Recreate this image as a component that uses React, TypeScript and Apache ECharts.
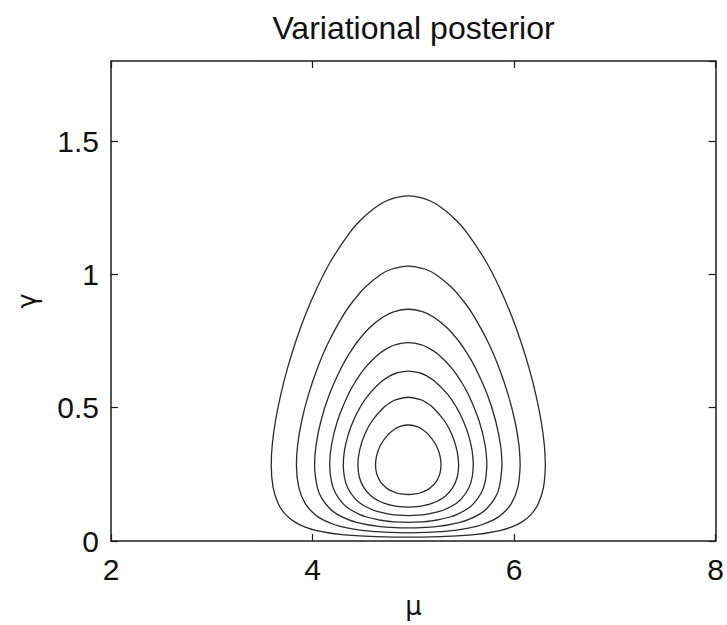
import React, { useEffect, useRef } from "react";
import * as echarts from "echarts";

// Centre of the contours along mu
const MU_CENTER = 4.95;

// Axis ticks
const X_TICKS = [2, 4, 6, 8];
const Y_TICKS = [0, 0.5, 1, 1.5];
const Y_MAX = 1.8;

// Each contour: [gamma, half-width in mu], bottom -> top
const contour1 = [[0.0145, 0], [0.017, 0.367], [0.02, 0.523], [0.025, 0.679], [0.03, 0.782], [0.04, 0.918], [0.05, 1.007], [0.07, 1.121], [0.1, 1.219], [0.14, 1.29], [0.2, 1.341], [0.285, 1.36], [0.36, 1.35], [0.45, 1.318], [0.55, 1.265], [0.65, 1.197], [0.75, 1.115], [0.85, 1.019], [0.95, 0.905], [1.05, 0.768], [1.15, 0.594], [1.2, 0.482], [1.25, 0.33], [1.28, 0.186], [1.294, 0]];
const contour2 = [[0.0308, 0], [0.033, 0.236], [0.035, 0.322], [0.04, 0.459], [0.05, 0.62], [0.06, 0.722], [0.08, 0.85], [0.1, 0.929], [0.14, 1.022], [0.2, 1.086], [0.285, 1.11], [0.36, 1.098], [0.45, 1.058], [0.55, 0.99], [0.65, 0.9], [0.75, 0.786], [0.85, 0.64], [0.9, 0.547], [0.95, 0.433], [1.0, 0.269], [1.02, 0.161], [1.031, 0]];
const contour3 = [[0.0489, 0], [0.052, 0.216], [0.055, 0.298], [0.06, 0.391], [0.07, 0.513], [0.08, 0.595], [0.1, 0.704], [0.12, 0.775], [0.16, 0.858], [0.2, 0.902], [0.285, 0.93], [0.36, 0.915], [0.45, 0.867], [0.55, 0.783], [0.65, 0.665], [0.7, 0.59], [0.75, 0.5], [0.8, 0.384], [0.84, 0.25], [0.86, 0.139], [0.869, 0]];
const contour4 = [[0.0698, 0], [0.072, 0.145], [0.075, 0.222], [0.08, 0.305], [0.09, 0.413], [0.1, 0.486], [0.12, 0.584], [0.14, 0.648], [0.18, 0.723], [0.22, 0.761], [0.285, 0.78], [0.36, 0.762], [0.45, 0.703], [0.55, 0.595], [0.6, 0.521], [0.65, 0.427], [0.7, 0.296], [0.72, 0.219], [0.735, 0.135], [0.744, 0]];
const contour5 = [[0.0952, 0], [0.098, 0.138], [0.1, 0.178], [0.11, 0.3], [0.12, 0.374], [0.14, 0.47], [0.16, 0.531], [0.2, 0.602], [0.24, 0.634], [0.285, 0.645], [0.34, 0.633], [0.4, 0.595], [0.45, 0.546], [0.5, 0.48], [0.55, 0.391], [0.6, 0.26], [0.62, 0.178], [0.63, 0.115], [0.637, 0]];
const contour6 = [[0.127, 0], [0.13, 0.113], [0.135, 0.181], [0.14, 0.226], [0.15, 0.291], [0.17, 0.372], [0.2, 0.441], [0.24, 0.486], [0.285, 0.5], [0.34, 0.483], [0.4, 0.432], [0.45, 0.36], [0.5, 0.247], [0.52, 0.174], [0.53, 0.121], [0.539, 0]];
const contour7 = [[0.1743, 0], [0.177, 0.079], [0.18, 0.112], [0.19, 0.179], [0.2, 0.22], [0.22, 0.272], [0.25, 0.312], [0.285, 0.325], [0.32, 0.314], [0.36, 0.275], [0.4, 0.199], [0.42, 0.134], [0.43, 0.079], [0.435, 0]];

const CONTOURS = [contour1, contour2, contour3, contour4, contour5, contour6, contour7];

// Build a closed loop of [mu, gamma] from a half contour (mirrored about MU_CENTER),
// starting at the widest point so the join is on a vertical tangent.
function closedLoop(half: number[][]): number[][] {
  let iMax = 0;
  half.forEach((p, i) => {
    if (p[1] > half[iMax][1]) iMax = i;
  });
  const out: number[][] = [];
  for (let i = iMax; i < half.length; i++) out.push([MU_CENTER + half[i][1], half[i][0]]);
  for (let i = half.length - 2; i >= 0; i--) out.push([MU_CENTER - half[i][1], half[i][0]]);
  for (let i = 1; i <= iMax; i++) out.push([MU_CENTER + half[i][1], half[i][0]]);
  return out;
}

const FONT = "'Liberation Sans', Arial, Helvetica, sans-serif";
const GREEK_FONT = "'DejaVu Sans', 'Liberation Sans', sans-serif";
const AXIS_COLOR = "#1c1c1c";

export default function App() {
  const ref = useRef<HTMLDivElement>(null);

  useEffect(() => {
    const el = ref.current;
    if (!el) return;
    const chart = echarts.init(el, null, { renderer: "svg" });

    const GRID = { left: 111, right: 11, top: 61, bottom: 84 };
    const plotCx = GRID.left + (727 - GRID.left - GRID.right) / 2;
    const plotCy = GRID.top + (625 - GRID.top - GRID.bottom) / 2;

    const axisLine = { show: true, onZero: false, lineStyle: { color: AXIS_COLOR, width: 1.5 } };
    const axisTick = { show: true, inside: true, length: 7, lineStyle: { color: AXIS_COLOR, width: 1.2 } };

    const yFormatter = (v: number) =>
      Y_TICKS.some((t) => Math.abs(t - v) < 1e-9) ? String(v) : "";

    const xBase = {
      type: "value",
      min: X_TICKS[0],
      max: X_TICKS[X_TICKS.length - 1],
      interval: X_TICKS[1] - X_TICKS[0],
      splitLine: { show: false },
      axisLine,
      axisTick,
    };
    const yBase = {
      type: "value",
      min: Y_TICKS[0],
      max: Y_MAX,
      interval: Y_TICKS[1] - Y_TICKS[0],
      splitLine: { show: false },
      axisLine,
      axisTick,
    };

    const option: any = {
      animation: false,
      backgroundColor: "#ffffff",
      grid: { ...GRID, containLabel: false },
      xAxis: [
        {
          ...xBase,
          position: "bottom",
          axisLabel: { show: true, fontSize: 30, fontFamily: FONT, color: "#111", margin: 13 },
        },
        { ...xBase, position: "top", axisLabel: { show: false } },
      ],
      yAxis: [
        {
          ...yBase,
          position: "left",
          axisLabel: {
            show: true,
            fontSize: 30,
            fontFamily: FONT,
            color: "#111",
            margin: 12,
            formatter: yFormatter,
            showMaxLabel: false,
          },
        },
        { ...yBase, position: "right", axisLabel: { show: false } },
      ],
      graphic: [
        {
          type: "text",
          x: plotCx,
          y: 28,
          style: {
            text: "Variational posterior",
            fontSize: 32,
            fontFamily: FONT,
            fill: "#111",
            align: "center",
            verticalAlign: "middle",
          },
        },
        {
          type: "text",
          x: plotCx,
          y: 606,
          style: {
            text: "μ",
            fontSize: 26,
            fontFamily: GREEK_FONT,
            fill: "#111",
            align: "center",
            verticalAlign: "middle",
          },
        },
        {
          type: "text",
          x: 27,
          y: plotCy,
          rotation: Math.PI / 2,
          style: {
            text: "γ",
            fontSize: 26,
            fontFamily: GREEK_FONT,
            fill: "#111",
            align: "center",
            verticalAlign: "middle",
          },
        },
      ],
      series: CONTOURS.map((c, i) => ({
        type: "line",
        name: `contour ${i + 1}`,
        data: closedLoop(c),
        xAxisIndex: 0,
        yAxisIndex: 0,
        showSymbol: false,
        symbol: "none",
        smooth: 0.4,
        silent: true,
        lineStyle: { color: "#2a2a2a", width: 1.3 },
        z: 2,
      })),
    };

    chart.setOption(option);
    return () => chart.dispose();
  }, []);

  return (
    <div
      ref={ref}
      style={{ position: "fixed", left: 0, top: 0, width: 727, height: 625, background: "#fff" }}
    />
  );
}
